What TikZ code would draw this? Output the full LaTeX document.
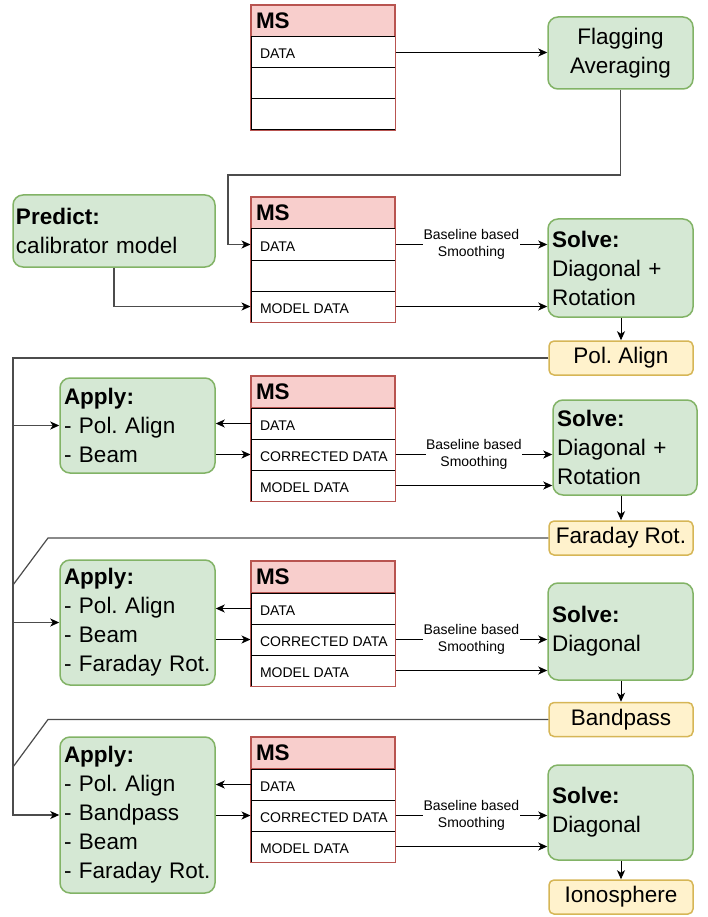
\documentclass[tikz,border=0pt]{standalone}
\usepackage{fontspec}
\setmainfont{Liberation Sans}
\usetikzlibrary{arrows.meta}
\frenchspacing
\definecolor{gfill}{HTML}{D5E8D4}\definecolor{gline}{HTML}{82B366}
\definecolor{rfill}{HTML}{F8CECC}\definecolor{rline}{HTML}{B85450}
\definecolor{yfill}{HTML}{FFF2CC}\definecolor{yline}{HTML}{D6B656}
\newcommand\bigf{\fontsize{22.5}{29}\selectfont}
\newcommand\smallf{\fontsize{14}{16.5}\selectfont}
\newcommand\rowtext[1]{\raisebox{-6.5pt}[0pt][0pt]{\makebox[126pt][l]{#1}}}
\tikzset{
  gbox/.style={rounded corners=10pt, line width=1.5pt, fill=gfill, draw=gline, inner ysep=0pt, inner xsep=4pt, font=\bigf, align=left},
  ybox/.style={rounded corners=5pt, line width=1.5pt, fill=yfill, draw=yline, inner sep=0pt, font=\bigf, align=center, minimum width=144pt, minimum height=34pt},
  hdr/.style={draw=rline, fill=rfill, line width=1.3pt, minimum height=32pt, inner xsep=5pt, inner ysep=0pt, text width=134pt, align=left, font=\bigf\bfseries},
  rowc/.style={draw=black, fill=white, line width=1pt, minimum height=31pt, minimum width=144pt, inner xsep=9pt, inner ysep=0pt, font=\smallf},
  arr/.style={-{Stealth[length=9pt,width=8pt,inset=2.5pt]}, line width=1pt, draw=black},
  bus/.style={line width=1.2pt, draw=black!70},
  busarr/.style={bus, -{Stealth[length=9pt,width=8pt,inset=2.5pt,color=black]}},
  lbl/.style={fill=white, font=\smallf, align=center, inner sep=0.5pt},
}
\begin{document}
\begin{tikzpicture}[x=1pt,y=-1pt]
\useasboundingbox (0,0) rectangle (708,917);

% ---------- MS tables ----------
\node[hdr] (ms1h) at (323,21) {MS};
\node[rowc] (ms1a) at (323,52.5) {\rowtext{DATA}};
\node[rowc] (ms1b) at (323,83.5) {\rowtext{}};
\node[rowc] (ms1c) at (323,114.5) {\rowtext{}};
\draw[rline, line width=1.3pt] (ms1h.north west) rectangle (ms1c.south east);

\node[hdr] (ms2h) at (323,213) {MS};
\node[rowc] (ms2a) at (323,244.5) {\rowtext{DATA}};
\node[rowc] (ms2b) at (323,275.5) {\rowtext{}};
\node[rowc] (ms2c) at (323,306.5) {\rowtext{MODEL DATA}};
\draw[rline, line width=1.3pt] (ms2h.north west) rectangle (ms2c.south east);

\node[hdr] (ms3h) at (323,392) {MS};
\node[rowc] (ms3a) at (323,423.5) {\rowtext{DATA}};
\node[rowc] (ms3b) at (323,454.5) {\rowtext{CORRECTED DATA}};
\node[rowc] (ms3c) at (323,485.5) {\rowtext{MODEL DATA}};
\draw[rline, line width=1.3pt] (ms3h.north west) rectangle (ms3c.south east);

\node[hdr] (ms4h) at (323,577) {MS};
\node[rowc] (ms4a) at (323,608.5) {\rowtext{DATA}};
\node[rowc] (ms4b) at (323,639.5) {\rowtext{CORRECTED DATA}};
\node[rowc] (ms4c) at (323,670.5) {\rowtext{MODEL DATA}};
\draw[rline, line width=1.3pt] (ms4h.north west) rectangle (ms4c.south east);

\node[hdr] (ms5h) at (323,753) {MS};
\node[rowc] (ms5a) at (323,784.5) {\rowtext{DATA}};
\node[rowc] (ms5b) at (323,815.5) {\rowtext{CORRECTED DATA}};
\node[rowc] (ms5c) at (323,846.5) {\rowtext{MODEL DATA}};
\draw[rline, line width=1.3pt] (ms5h.north west) rectangle (ms5c.south east);

% ---------- green boxes ----------
\node[gbox, align=center, text width=137pt, minimum height=72pt] (flag) at (620.5,53) {Flagging\\Averaging};
\node[gbox, text width=196pt, inner xsep=3pt, minimum height=72pt] (pred) at (114,231) {\textbf{Predict:}\\calibrator model};

\node[gbox, text width=137pt, minimum height=98pt] (sv1) at (620.5,268) {\textbf{Solve:}\\Diagonal +\\Rotation};
\node[gbox, text width=136pt, minimum height=95pt] (sv2) at (625,447.5) {\textbf{Solve:}\\Diagonal +\\Rotation};
\node[gbox, text width=137pt, minimum height=97pt] (sv3) at (620.5,631.5) {\textbf{Solve:}\\Diagonal};
\node[gbox, text width=137pt, minimum height=95pt] (sv4) at (620.5,812.5) {\textbf{Solve:}\\Diagonal};

\node[gbox, text width=147pt, minimum height=95pt] (ap1) at (137.5,425.5) {\textbf{Apply:}\\- Pol. Align\\- Beam};
\node[gbox, text width=147pt, minimum height=125pt] (ap2) at (137.5,622.5) {\textbf{Apply:}\\- Pol. Align\\- Beam\\- Faraday Rot.};
\node[gbox, text width=147pt, minimum height=156pt] (ap3) at (137.5,815) {\textbf{Apply:}\\- Pol. Align\\- Bandpass\\- Beam\\- Faraday Rot.};

% ---------- yellow boxes ----------
\node[ybox] (pa) at (621,358) {Pol. Align};
\node[ybox] (fr) at (621,538) {Faraday Rot.};
\node[ybox] (bp) at (621,719.5) {Bandpass};
\node[ybox] (io) at (621,897) {Ionosphere};

% ---------- connectors ----------
\draw[arr] (ms1a.east) -- (ms1a.east -| flag.west);
\coordinate (fa) at (228,175);
\draw[busarr] (flag.south) |- (fa) |- (ms2a.west);
\draw[busarr] (pred.south) |- (ms2c.west);

\draw[arr] (ms2a.east) -- (ms2a.east -| sv1.west) node[midway, lbl] {Baseline based\\Smoothing};
\draw[arr] (ms2c.east) -- (ms2c.east -| sv1.west);
\draw[arr] (pa.north |- sv1.south) -- (pa.north);

\draw[arr] (ms3a.west) -- (ms3a.west -| ap1.east);
\draw[arr] (ap1.east |- ms3b.west) -- (ms3b.west);
\draw[arr] (ms3b.east) -- (ms3b.east -| sv2.west) node[midway, lbl] {Baseline based\\Smoothing};
\draw[arr] (ms3c.east) -- (ms3c.east -| sv2.west);
\draw[arr] (fr.north |- sv2.south) -- (fr.north);

\draw[arr] (ms4a.west) -- (ms4a.west -| ap2.east);
\draw[arr] (ap2.east |- ms4b.west) -- (ms4b.west);
\draw[arr] (ms4b.east) -- (ms4b.east -| sv3.west) node[midway, lbl] {Baseline based\\Smoothing};
\draw[arr] (ms4c.east) -- (ms4c.east -| sv3.west);
\draw[arr] (bp.north |- sv3.south) -- (bp.north);

\draw[arr] (ms5a.west) -- (ms5a.west -| ap3.east);
\draw[arr] (ap3.east |- ms5b.west) -- (ms5b.west);
\draw[arr] (ms5b.east) -- (ms5b.east -| sv4.west) node[midway, lbl] {Baseline based\\Smoothing};
\draw[arr] (ms5c.east) -- (ms5c.east -| sv4.west);
\draw[arr] (io.north |- sv4.south) -- (io.north);

% ---------- bus on the left ----------
\coordinate (bx) at (13,0);
\draw[busarr] (pa.west) -- (pa.west -| bx) -- (ap3.west -| bx) -- (ap3.west);
\draw[busarr] (ap1.west -| bx) -- (ap1.west);
\draw[busarr] (ap2.west -| bx) -- (ap2.west);

\coordinate (kx) at (48,0);
\coordinate (fj) at (13,585);
\coordinate (bj) at (13,767);
\draw[bus] (fr.west) -- (fr.west -| kx) -- (fj);
\draw[bus] (bp.west) -- (bp.west -| kx) -- (bj);
\end{tikzpicture}
\end{document}
